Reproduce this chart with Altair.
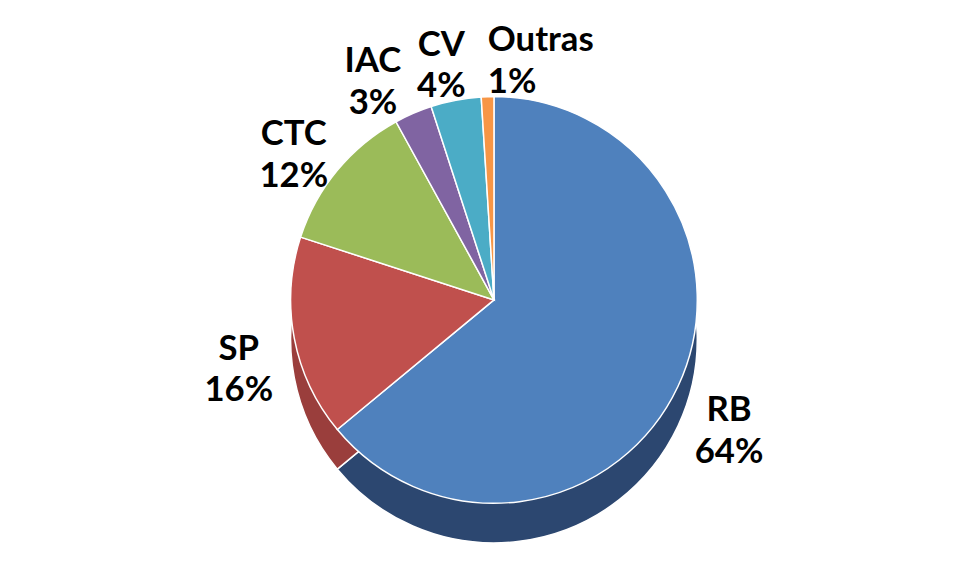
import altair as alt
import pandas as pd

categories = ["RB", "SP", "CTC", "IAC", "CV", "Outras"]
values = [64, 16, 12, 3, 4, 1]
top_colors = ["#4F81BD", "#C0504D", "#9BBB59", "#8064A2", "#4BACC6", "#F79646"]
side_colors = ["#2C4770", "#9A3E3C", "#6F8A3F", "#5B4775", "#337F93", "#B86E32"]

df = pd.DataFrame({"cat": categories, "value": values, "order": list(range(len(categories)))})
df["label"] = df["cat"] + "\n" + df["value"].astype(str) + "%"

R = 205
depth = 40

theta = alt.Theta("value:Q", stack=True)
order = alt.Order("order:Q")

base = alt.Chart(df)

side = base.mark_arc(outerRadius=R, yOffset=depth, stroke="#ffffff", strokeWidth=1.5).encode(
    theta=theta, order=order,
    color=alt.Color("cat:N", scale=alt.Scale(domain=categories, range=side_colors), legend=None),
)

top = base.mark_arc(outerRadius=R, stroke="#ffffff", strokeWidth=1.5).encode(
    theta=theta, order=order,
    color=alt.Color("cat:N", scale=alt.Scale(domain=categories, range=top_colors), legend=None),
)

text_props = dict(radius=262, fontSize=35, fontWeight="bold", font="Lato",
                  lineBreak="\n", color="#000000", lineHeight=42)


def label_layer(cond, **kw):
    props = dict(text_props)
    props.update(kw)
    return base.transform_calculate(
        keep=cond
    ).mark_text(**props).encode(
        theta=theta, order=order,
        text=alt.Text("label:N"),
        opacity=alt.condition("datum.keep", alt.value(1), alt.value(0)),
    )


labels_main = label_layer("indexof(['RB','SP','CTC'], datum.cat) >= 0")
labels_iac = label_layer("datum.cat == 'IAC'", dx=-18)
labels_cv = label_layer("datum.cat == 'CV'", dx=-4)
labels_outras = label_layer("datum.cat == 'Outras'", align="left", dx=2)

chart = alt.layer(side, top, labels_main, labels_iac, labels_cv, labels_outras).resolve_scale(
    color="independent"
).properties(
    width=964, height=480,
    padding={"left": 8, "top": 52, "right": 0, "bottom": 35},
    autosize=alt.AutoSizeParams(type="none"),
).configure_view(stroke=None)

chart.save("out.html", embed_options={"renderer": "svg", "actions": False})
